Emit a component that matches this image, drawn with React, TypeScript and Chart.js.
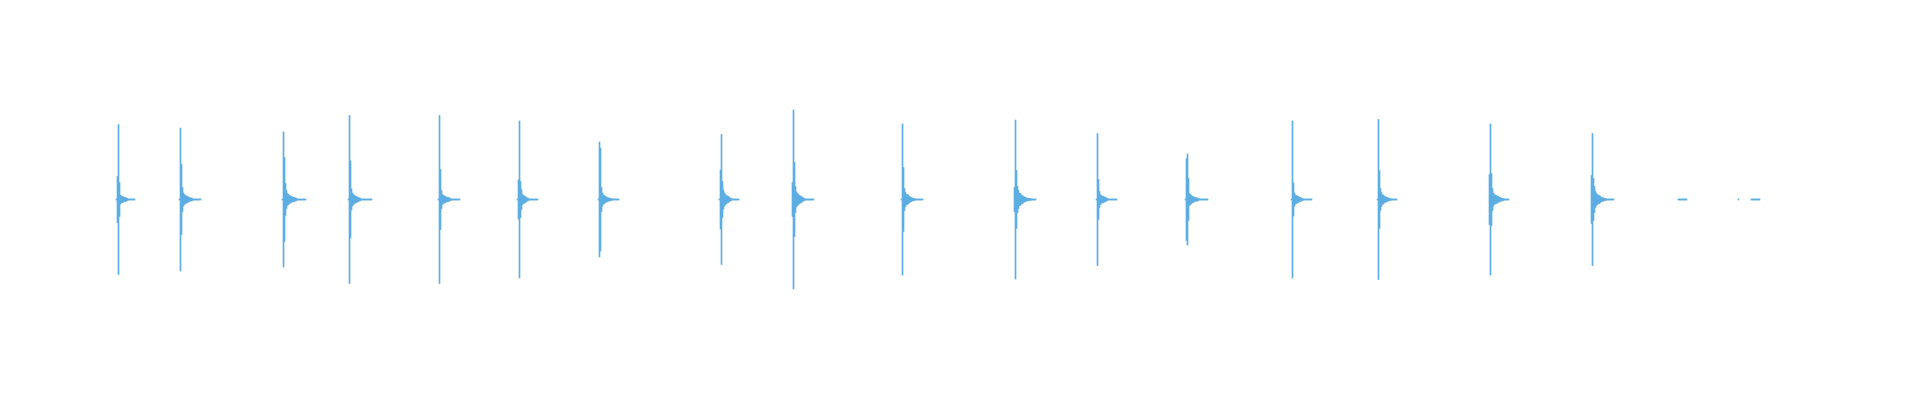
import React, { useEffect, useRef } from "react";
import { Chart, registerables } from "chart.js";

Chart.register(...registerables);

// Each event: first column, per-column half amplitude (px units of the scale), then a flat quiet tail
const eventStart = [116, 179, 282, 348, 438, 517, 598, 719, 792, 901, 1014, 1096, 1185, 1291, 1377, 1489, 1591, 1678, 1738, 1751];

const eventEnvelope: number[][] = [
  [0.5, 23, 75, 17, 4.5, 3.5, 3, 2.5, 2, 2, 1.5, 1],
  [0.5, 71.5, 35, 12, 6.5, 5, 4, 3.5, 3, 2.5, 2, 1.5, 1.5, 1],
  [0.5, 67.5, 42, 16, 9, 6, 5, 4, 3.5, 3, 2.5, 2, 2, 1.5, 1],
  [0.5, 84, 38.5, 10.5, 6.5, 5, 4, 3.5, 3, 2.5, 2, 1.5, 1],
  [0.5, 84, 30, 9, 5, 4, 3.5, 3, 2.5, 2, 2, 1.5, 1],
  [0.5, 19.5, 78.5, 18, 10, 5, 4, 3.5, 3, 2, 1.5, 1],
  [0.5, 57.5, 51.5, 12, 6.5, 4.5, 4, 3, 2.5, 2, 1.5, 1.5, 1, 1],
  [0.5, 29.5, 65, 18, 9.5, 6.5, 5, 4, 3.5, 3, 2, 1.5, 1],
  [17, 89.5, 37, 13, 7.5, 6, 5, 4, 3.5, 3, 2, 1.5, 1],
  [0.5, 75.5, 32, 11, 7, 5, 5, 4, 3, 2.5, 2, 1.5, 1, 1],
  [12, 79.5, 29, 13, 9, 6, 6, 4.5, 4, 3, 2.5, 2, 1.5, 1.5, 1, 1, 1],
  [0.5, 66, 20, 8, 5, 3.5, 3.5, 3, 2.5, 2, 1.5, 1],
  [0.5, 41, 45.5, 21, 6, 5, 4, 3, 3, 2, 2, 1.5, 1.5, 1],
  [0.5, 78.5, 16.5, 6.5, 4.5, 4, 3, 3, 2, 2, 1.5, 1],
  [0.5, 80, 29, 11, 7, 4.5, 4.5, 3, 3, 2, 2, 1.5, 1, 1],
  [25, 75.5, 26, 11, 6.5, 4.5, 4.5, 4, 3, 3, 2, 2, 1.5, 1, 1],
  [24, 66, 21, 13, 8, 6, 5, 4, 4, 3, 2, 2, 1.5, 1, 1],
  [],
  [],
  [],
];

const eventTail = [7, 8, 9, 11, 9, 9, 7, 7, 9, 8, 5, 9, 9, 9, 6, 5, 8, 9, 1, 9];

const quietLevel = 0.5;
const waveColor = "rgb(93,173,226)";

export default function App() {
  const ref = useRef<HTMLCanvasElement | null>(null);

  useEffect(() => {
    const canvas = ref.current;
    if (!canvas) return;
    const points: { x: number; y: [number, number] }[] = [];
    eventStart.forEach((start, i) => {
      const env = eventEnvelope[i];
      env.forEach((a, j) => {
        points.push({ x: start + j + 0.5, y: [-a, a] });
      });
      for (let k = 0; k < eventTail[i]; k++) {
        points.push({ x: start + env.length + k + 0.5, y: [-quietLevel, quietLevel] });
      }
    });

    const chart = new Chart(canvas, {
      type: "bar",
      data: {
        datasets: [
          {
            data: points as any,
            backgroundColor: waveColor,
            borderWidth: 0,
            barThickness: 1,
          },
        ],
      },
      options: {
        animation: false,
        responsive: false,
        events: [],
        layout: { padding: 0 },
        plugins: { legend: { display: false }, tooltip: { enabled: false } },
        scales: {
          x: { type: "linear", min: 0, max: 1920, display: false, offset: false },
          y: { min: -200.5, max: 199.5, display: false },
        },
      },
    });
    return () => chart.destroy();
  }, []);

  return (
    <div style={{ position: "fixed", left: 0, top: 0, width: 1920, height: 400, background: "#fff" }}>
      <canvas ref={ref} width={1920} height={400} style={{ display: "block", width: 1920, height: 400 }} />
    </div>
  );
}
